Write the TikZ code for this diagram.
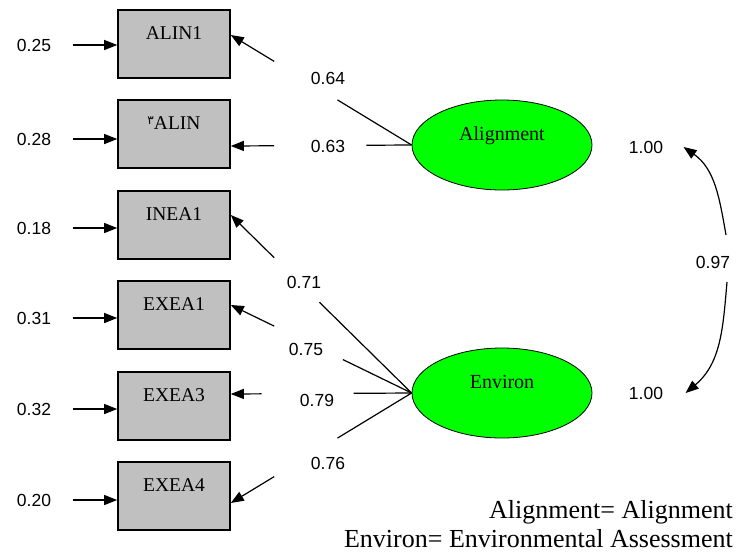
\documentclass[tikz,border=0pt]{standalone}
\usepackage{fontspec}
\setmainfont{Liberation Serif}
\newfontfamily\numfont{Liberation Sans}
\newfontfamily\arabicfont[Script=Arabic]{DejaVu Sans}
\usetikzlibrary{arrows.meta,shapes.geometric,calc}
\definecolor{obsgray}{RGB}{192,192,192}
\definecolor{latgreen}{RGB}{0,255,0}
\tikzset{
  obs/.style={draw=black, line width=1.6pt, fill=obsgray, minimum width=112pt, minimum height=68pt,
    inner ysep=4pt, text height=25.5pt, text depth=34.5pt, font=\fontsize{19.5}{19.5}\selectfont},
  lat/.style={ellipse, draw=black, line width=0.8pt, fill=latgreen, minimum width=180pt, minimum height=90pt,
    inner sep=0pt, text height=12pt, text depth=22pt, font=\fontsize{20}{20}\selectfont},
  num/.style={font=\numfont\fontsize{17.5}{17.5}\selectfont},
  legend/.style={inner sep=0pt, font=\fontsize{26}{26}\selectfont},
  arr/.style={-{Triangle[length=13pt,width=10pt]}},
  load/.style={line width=1.2pt},
  err/.style={line width=1.2pt, arr, shorten <=18pt},
  covar/.style={line width=1.2pt, arr}
}
\begin{document}
\begin{tikzpicture}[x=1pt,y=-1pt]
    \useasboundingbox (0,0) rectangle (736,555);
    % observed variables
    \node[obs] (b1) at (174,44) {ALIN1};
    \node[obs] (b2) at (174,134) {\raisebox{5pt}{\arabicfont\fontsize{12}{12}\selectfont ۳}ALIN};
    \node[obs] (b3) at (174,225) {INEA1};
    \node[obs] (b4) at (174,315) {EXEA1};
    \node[obs] (b5) at (174,406) {EXEA3};
    \node[obs] (b6) at (174,496) {EXEA4};
    % latent variables
    \node[lat] (al) at (502,145) {Alignment};
    \node[lat] (en) at (502,393) {Environ};
    % error variances
    \node[num] (e1) at (34,45) {0.25};
    \node[num] (e2) at (34,139) {0.28};
    \node[num] (e3) at (34,228) {0.18};
    \node[num] (e4) at (34,318) {0.31};
    \node[num] (e5) at (34,409) {0.32};
    \node[num] (e6) at (34,500) {0.20};
    \draw[err] (e1) -- (e1 -| b1.west);
    \draw[err] (e2) -- (e2 -| b2.west);
    \draw[err] (e3) -- (e3 -| b3.west);
    \draw[err] (e4) -- (e4 -| b4.west);
    \draw[err] (e5) -- (e5 -| b5.west);
    \draw[err] (e6) -- (e6 -| b6.west);
    % loadings
    \coordinate (t1) at ([yshift=9pt]b1.east);
    \coordinate (t2) at ([yshift=-12pt]b2.east);
    \coordinate (t3) at ([yshift=10pt]b3.east);
    \coordinate (t4) at ([yshift=10pt]b4.east);
    \coordinate (t5) at ([yshift=12pt]b5.east);
    \coordinate (t6) at ([yshift=-7pt]b6.east);
    \draw[load] (al.west) -- ($(al.west)!0.41!(t1)$);
    \draw[load,arr] ($(al.west)!0.76!(t1)$) -- (t1);
    \draw[load] (al.west) -- ($(al.west)!0.25!(t2)$);
    \draw[load,arr] ($(al.west)!0.76!(t2)$) -- (t2);
    \draw[load] (en.west) -- ($(en.west)!0.51!(t3)$);
    \draw[load,arr] ($(en.west)!0.76!(t3)$) -- (t3);
    \draw[load] (en.west) -- ($(en.west)!0.38!(t4)$);
    \draw[load,arr] ($(en.west)!0.76!(t4)$) -- (t4);
    \draw[load] (en.west) -- ($(en.west)!0.32!(t5)$);
    \draw[load,arr] ($(en.west)!0.83!(t5)$) -- (t5);
    \draw[load] (en.west) -- ($(en.west)!0.41!(t6)$);
    \draw[load,arr] ($(en.west)!0.76!(t6)$) -- (t6);
    \node[num] (l1) at (328,78) {0.64};
    \node[num] (l2) at (328,146) {0.63};
    \node[num] (l3) at (304,282) {0.71};
    \node[num] (l4) at (306,349) {0.75};
    \node[num] (l5) at (317,400) {0.79};
    \node[num] (l6) at (328,463) {0.76};
    % variances and covariance
    \node[num] (v1) at (646,147) {1.00};
    \node[num] (v2) at (646,393) {1.00};
    \node[num] (r) at (713,262) {0.97};
    \coordinate (r1) at (726,235);
    \coordinate (r2) at (727,282);
    \draw[covar] (r1) to[out=100,in=-35] ([xshift=17pt]v1.east);
    \draw[covar] (r2) to[out=-95,in=40] ([xshift=19pt]v2.east);
    % legend
    \node[legend, anchor=base east] (k1) at (733,518) {Alignment= Alignment};
    \node[legend, anchor=base east] (k2) at (733,547) {Environ= Environmental Assessment};
\end{tikzpicture}
\end{document}
